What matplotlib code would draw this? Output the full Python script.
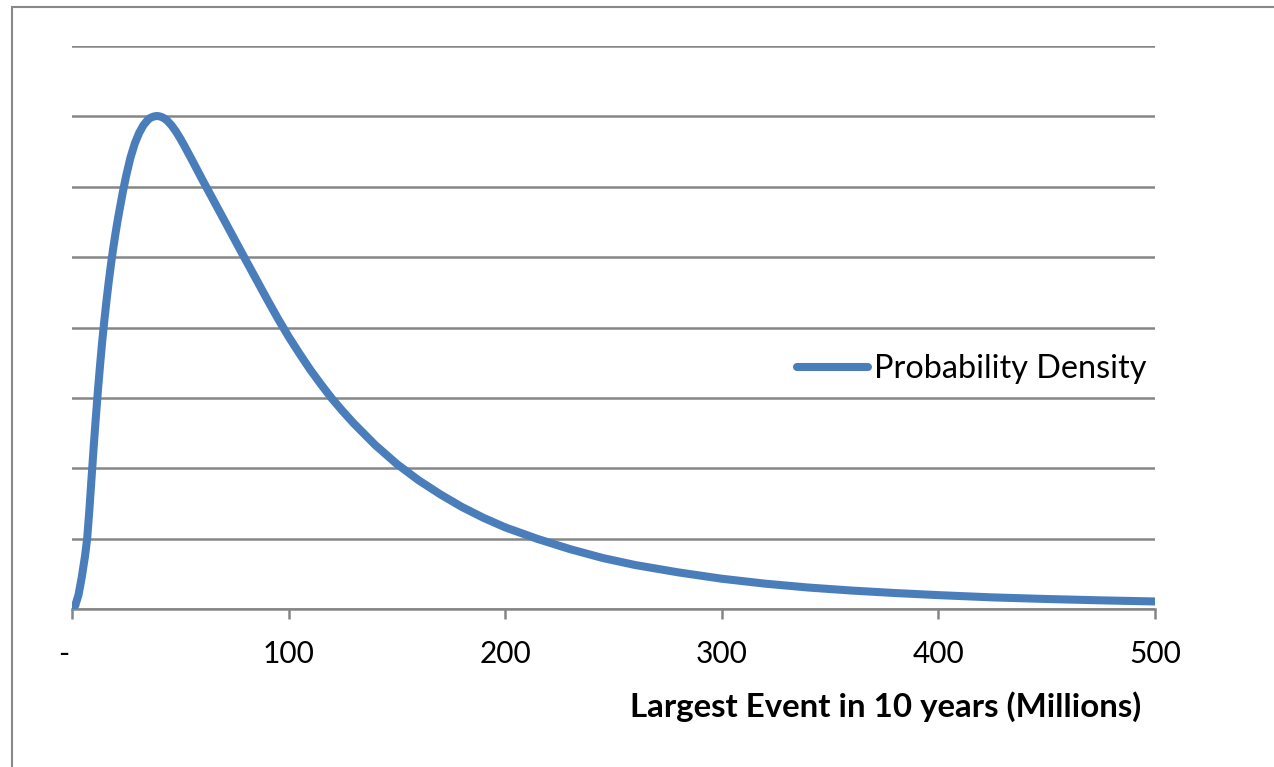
import matplotlib
matplotlib.use("Agg")
import matplotlib.pyplot as plt
from matplotlib.patches import Rectangle

# Largest event in 10 years (millions) and its probability density
event_size = [0, 1.5, 3, 4.5, 6, 7, 8, 9, 10, 11, 12, 13, 14, 15, 16, 17,
              18, 19, 20, 21, 22, 23.5, 25, 27, 29, 31, 33, 35, 36, 37, 38,
              39, 40, 41, 42, 43, 44, 46, 48, 50, 52, 54, 56, 58, 60, 65, 70,
              75, 80, 85, 90, 95, 100, 105, 110, 115, 120, 125, 130, 140, 150,
              160, 170, 180, 190, 200, 215, 230, 245, 260, 280, 300, 320, 340,
              360, 380, 400, 425, 450, 475, 500]
density = [0, 0.05, 0.2, 0.45, 0.75, 1.0, 1.4, 1.85, 2.3, 2.72, 3.12, 3.48,
           3.82, 4.12, 4.4, 4.66, 4.9, 5.12, 5.32, 5.51, 5.68, 5.93, 6.155,
           6.415, 6.615, 6.765, 6.875, 6.95, 6.975, 6.99, 7.0, 7.005, 7.003,
           6.995, 6.982, 6.963, 6.938, 6.87, 6.785, 6.685, 6.575, 6.46, 6.345,
           6.228, 6.11, 5.825, 5.54, 5.255, 4.97, 4.688, 4.405, 4.13, 3.87,
           3.63, 3.40, 3.19, 2.99, 2.81, 2.64, 2.33, 2.06, 1.83, 1.63, 1.45,
           1.295, 1.16, 0.995, 0.85, 0.725, 0.625, 0.52, 0.43, 0.36, 0.305,
           0.262, 0.227, 0.197, 0.165, 0.142, 0.123, 0.107]

x_ticks = [0, 100, 200, 300, 400, 500]
x_tick_labels = ["-  ", "100", "200", "300", "400", "500"]
series_name = "Probability Density"
x_title = "Largest Event in 10 years (Millions)"

W, H = 1274, 767
DPI = 100
GRID = "#868686"
BLUE = "#4A7EBB"

plt.rcParams["font.family"] = ["Lato", "DejaVu Sans"]

fig = plt.figure(figsize=(W / DPI, H / DPI), dpi=DPI)

# chart area border (only left/top edges fall inside the canvas)
fig.patches.append(Rectangle((12 / W, -0.1), 1.2, (H - 7) / H + 0.1,
                             transform=fig.transFigure, fill=False,
                             edgecolor="#898989", linewidth=1.5))

left, right, top, bottom = 72, 1155, 46, 609
ax = fig.add_axes([left / W, 1 - bottom / H, (right - left) / W,
                   (bottom - top) / H])

line, = ax.plot(event_size, density, color=BLUE, linewidth=5.8,
                solid_capstyle="round", solid_joinstyle="round",
                label=series_name, zorder=3)

ax.set_xlim(0, 500)
ax.set_ylim(0, 8)
ax.set_yticks(range(0, 9))
ax.yaxis.grid(True, color=GRID, linewidth=1.8)
ax.set_axisbelow(True)
ax.tick_params(axis="y", left=False, labelleft=False)

ax.set_xticks(x_ticks)
ax.set_xticklabels(x_tick_labels, fontsize=21.5)
ax.tick_params(axis="x", direction="out", length=7, width=1.8,
               color=GRID, pad=15)

for side in ("left", "right", "top"):
    ax.spines[side].set_visible(False)
ax.spines["bottom"].set_color(GRID)
ax.spines["bottom"].set_linewidth(1.8)

fig.text(1141 / W, 1 - 717 / H, x_title, ha="right", va="baseline",
         fontsize=23.8, fontweight="bold")

leg = ax.legend(handles=[line], loc="center left",
                bbox_to_anchor=(797 / W, 1 - 369 / H),
                bbox_transform=fig.transFigure, frameon=False,
                fontsize=23.3, handlelength=71 / (23.3 * DPI / 72),
                handletextpad=0.18, borderpad=0, borderaxespad=0)

fig.savefig("out.png", dpi=DPI)
